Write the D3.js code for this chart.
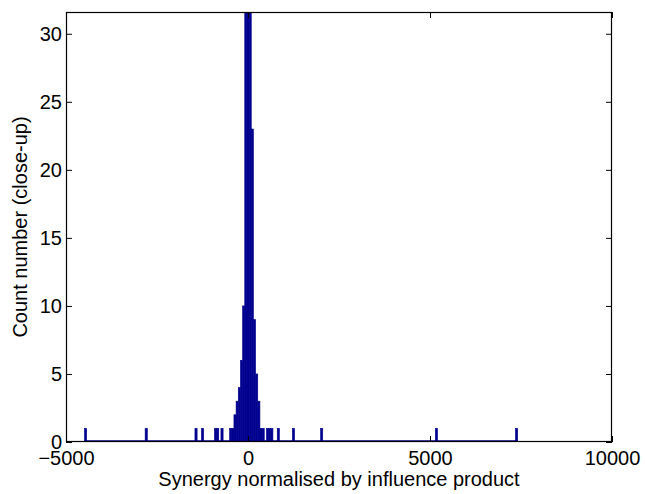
<!DOCTYPE html>
<html>
<head>
<meta charset="utf-8">
<script src="https://cdn.jsdelivr.net/npm/d3@7"></script>
<style>
  body { margin:0; background:#fff; }
  svg text { font-family: "Liberation Sans", Arial, sans-serif; }
</style>
</head>
<body>
<svg id="chart" width="645" height="494"></svg>
<script>
// histogram bins (200 bins between binStart and binStart+200*binWidth)
var binStart=-4492;
var binWidth=59.5;
var nBins=200;
// non-empty bins: index and count (centre bins are clipped by the close-up)
var binIndex=[0,28,51,54,60,61,63,67,68,69,70,71,72,73,74,75,76,77,78,79,80,81,82,84,85,86,89,96,109,162,199];
var binCount=[1,1,1,1,1,1,1,1,1,2,3,4,6,10,48,62,41,23,9,5,3,1,1,1,1,1,1,1,1,1,1];

var xTicks=[-5000,0,5000,10000];
var yTicks=[0,5,10,15,20,25,30];
var xDomain=[-5000,10000];
var yDomain=[0,31.6];

var xLabel="Synergy normalised by influence product";
var yLabel="Count number (close-up)";

var barColor="#00008f";

function drawChart() {
  var svg=d3.select("#chart");
  var pLeft=66, pRight=612, pTop=12, pBottom=442;
  var fs="20px";

  var x=d3.scaleLinear().domain(xDomain).range([pLeft,pRight]);
  var y=d3.scaleLinear().domain(yDomain).range([pBottom,pTop]);

  svg.append("defs").append("clipPath").attr("id","plotclip")
     .append("rect").attr("x",pLeft).attr("y",pTop)
     .attr("width",pRight-pLeft).attr("height",pBottom-pTop);

  var bars=[];
  for(var i=0;i<binIndex.length;i++) {
    var x0=binStart+binIndex[i]*binWidth;
    bars.push({x0:x0, x1:x0+binWidth, c:binCount[i]});
  }

  var g=svg.append("g").attr("clip-path","url(#plotclip)");

  // baseline of the empty bins
  g.append("line")
    .attr("x1",x(binStart)).attr("x2",x(binStart+nBins*binWidth))
    .attr("y1",y(0)-1).attr("y2",y(0)-1)
    .attr("stroke",barColor).attr("stroke-width",1.5);

  g.selectAll("rect.bar").data(bars).enter().append("rect")
    .attr("class","bar")
    .attr("x",function(d){ return x(d.x0); })
    .attr("width",function(d){ return x(d.x1)-x(d.x0); })
    .attr("y",function(d){ return y(d.c); })
    .attr("height",function(d){ return y(0)-y(d.c); })
    .attr("fill",barColor)
    .attr("stroke",barColor)
    .attr("stroke-width",0.6);

  // axes, matlab style: ticks inside on all four sides
  var tl=6;
  var fmt=d3.format("");

  var xAxisB=d3.axisBottom(x).tickValues(xTicks).tickSizeInner(-tl).tickSizeOuter(0).tickPadding(9).tickFormat(fmt);
  var xAxisT=d3.axisTop(x).tickValues(xTicks).tickSizeInner(-tl).tickSizeOuter(0).tickFormat("");
  var yAxisL=d3.axisLeft(y).tickValues(yTicks).tickSizeInner(-tl).tickSizeOuter(0).tickPadding(4);
  var yAxisR=d3.axisRight(y).tickValues(yTicks).tickSizeInner(-tl).tickSizeOuter(0).tickFormat("");

  function styleAxis(sel) {
    sel.select(".domain").remove();
    sel.selectAll("line").attr("stroke","#000").attr("stroke-width",1);
    sel.selectAll("text").attr("fill","#000").style("font-size",fs);
  }

  svg.append("g").attr("transform","translate(0,"+pBottom+")").call(xAxisB).call(styleAxis);
  svg.append("g").attr("transform","translate(0,"+pTop+")").call(xAxisT).call(styleAxis);
  svg.append("g").attr("transform","translate("+pLeft+",0)").call(yAxisL).call(styleAxis);
  svg.append("g").attr("transform","translate("+pRight+",0)").call(yAxisR).call(styleAxis);

  svg.append("rect")
    .attr("x",pLeft+0.5).attr("y",pTop+0.5)
    .attr("width",pRight-pLeft-1).attr("height",pBottom-pTop-1)
    .attr("fill","none").attr("stroke","#000").attr("stroke-width",1.2);

  svg.append("text")
    .attr("x",(pLeft+pRight)/2).attr("y",486)
    .attr("text-anchor","middle")
    .style("font-size",fs)
    .text(xLabel);

  svg.append("text")
    .attr("transform","translate(27,"+((pTop+pBottom)/2)+") rotate(-90)")
    .attr("text-anchor","middle")
    .style("font-size",fs)
    .text(yLabel);
}

drawChart();
</script>
</body>
</html>
